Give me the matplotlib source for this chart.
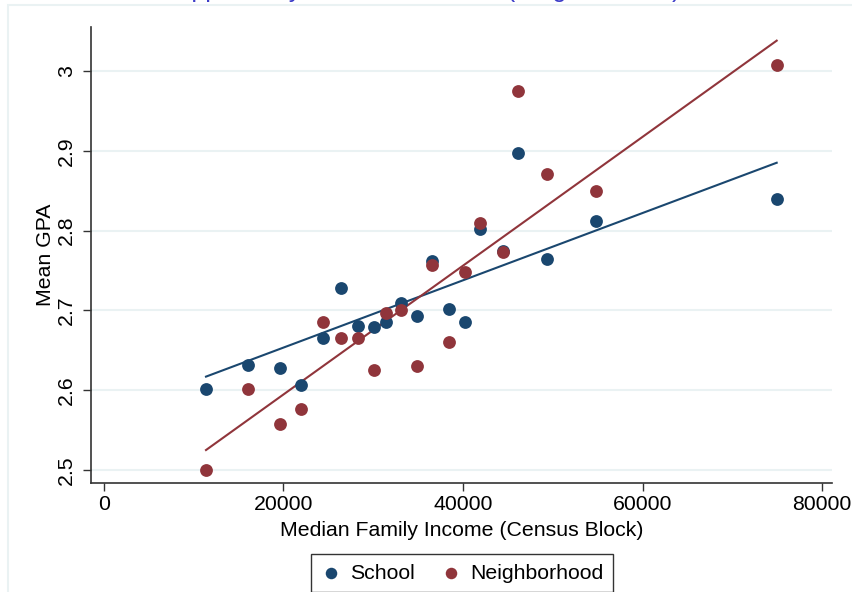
import numpy as np
import matplotlib
matplotlib.use("Agg")
import matplotlib.pyplot as plt
from matplotlib.patches import Rectangle

plt.rcParams['font.family'] = ['Liberation Sans', 'DejaVu Sans']

# Median family income bins (census block)
income = [11365, 16078, 19643, 21983, 24368, 26440, 28301, 30117, 31421, 33125,
          34841, 36513, 38474, 40256, 41894, 44423, 46128, 49393, 54785, 74952]

# Mean GPA, school-based grouping
gpa_school = [2.602, 2.632, 2.628, 2.607, 2.666, 2.728, 2.681, 2.679, 2.685, 2.709,
              2.693, 2.762, 2.702, 2.686, 2.802, 2.774, 2.897, 2.765, 2.812, 2.840]

# Mean GPA, neighborhood-based grouping
gpa_neigh = [2.500, 2.602, 2.558, 2.577, 2.685, 2.666, 2.665, 2.625, 2.697, 2.700,
             2.630, 2.757, 2.660, 2.748, 2.809, 2.773, 2.975, 2.871, 2.850, 3.007]

# fitted lines (values at lowest and highest income bin)
fit_x = [11365, 74952]
fit_school = [2.617, 2.885]
fit_neigh = [2.525, 3.038]

x_ticks = [0, 20000, 40000, 60000, 80000]
y_ticks = [2.5, 2.6, 2.7, 2.8, 2.9, 3.0]
y_labels = ["2.5", "2.6", "2.7", "2.8", "2.9", "3"]

navy = "#1a476f"
maroon = "#90353b"
grid_col = "#eaf2f3"
fs = 15.3

fig = plt.figure(figsize=(8.52, 5.92), dpi=100)
ax = fig.add_axes([91 / 852, 1 - 483 / 592, (832 - 91) / 852, (483 - 27) / 592])

# outer graph region border (light)
fig.patches.append(Rectangle((8 / 852, -0.1), 1.2, 1 - 5 / 592 + 0.1,
                             transform=fig.transFigure, fill=False,
                             edgecolor=grid_col, lw=1.5))

# title, mostly cut off at the top as in the original
fig.text(0.5, 1 + 3 / 592, "Opportunity and Achievement (Neighborhood)",
         ha="center", va="baseline", color="#3c3cc8", fontsize=18)

ax.scatter(income, gpa_school, s=85, color=navy, lw=0, zorder=3, label="School")
ax.scatter(income, gpa_neigh, s=85, color=maroon, lw=0, zorder=3, label="Neighborhood")

ax.plot(fit_x, fit_school, color=navy, lw=1.5, zorder=2)
ax.plot(fit_x, fit_neigh, color=maroon, lw=1.5, zorder=2)

ax.set_xlim(-1448, 81114)
ax.set_ylim(2.4837, 3.0551)

ax.set_xticks(x_ticks)
ax.set_xticklabels([str(t) for t in x_ticks])
ax.set_yticks(y_ticks)
ax.set_yticklabels(y_labels, rotation=90, va="center")

for yv in y_ticks:
    ax.axhline(yv, color=grid_col, lw=1.5, zorder=1)

for s in ["top", "right"]:
    ax.spines[s].set_visible(False)
for s in ["left", "bottom"]:
    ax.spines[s].set_color("#333333")
    ax.spines[s].set_linewidth(1.2)

ax.tick_params(axis="both", length=6, width=1, color="#333333",
               labelsize=fs, pad=3)
ax.tick_params(axis="y", pad=5)

ax.set_xlabel("Median Family Income (Census Block)", fontsize=fs, labelpad=5)
ax.set_ylabel("Mean GPA", fontsize=fs, labelpad=1)

leg = fig.legend(loc="upper center", bbox_to_anchor=(462 / 852, 1 - 554 / 592),
                 ncol=2, fontsize=fs, frameon=True, fancybox=False,
                 handletextpad=0.4, columnspacing=1.2, borderpad=0.45,
                 borderaxespad=0, handlelength=1.0, markerscale=0.9)
leg.get_frame().set_edgecolor("black")
leg.get_frame().set_linewidth(1.0)

fig.savefig("out.png", dpi=100, facecolor="white")
